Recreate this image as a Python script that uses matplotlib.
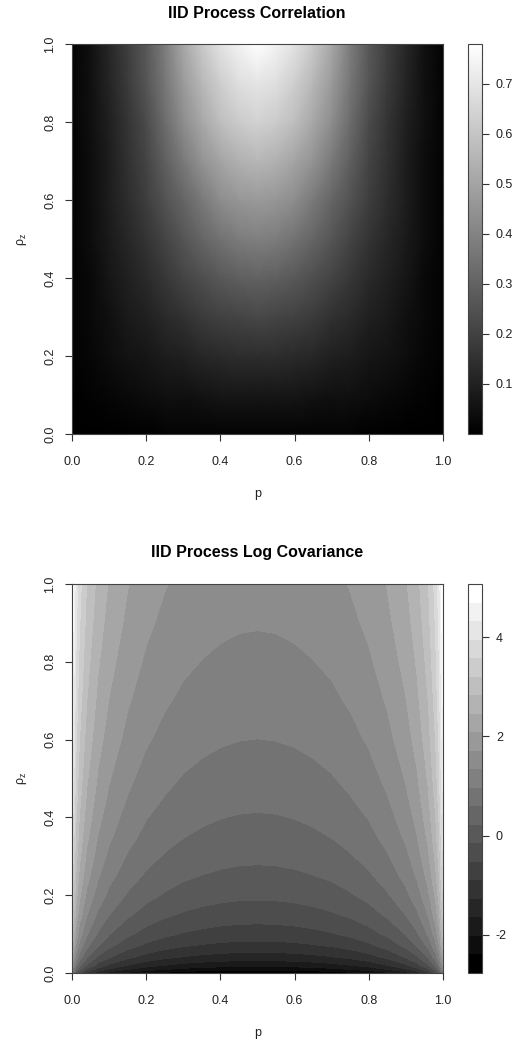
#!/usr/bin/env python3
# -*- coding: utf-8 -*-
"""
Processus IID : correlation et log-covariance en fonction de p et rho_z
Valeurs relevees sur la figure d'origine (grille grossiere).
"""

import numpy as np
import matplotlib
matplotlib.use("Agg")
import matplotlib.pyplot as plt
from matplotlib.colors import ListedColormap

plt.rcParams['font.family'] = ['Liberation Sans', 'DejaVu Sans']
plt.rcParams['axes.unicode_minus'] = False
plt.rcParams['mathtext.fontset'] = 'custom'
plt.rcParams['mathtext.rm'] = 'Liberation Sans'

# ---------------------------------------------------------------
# Donnees - correlation
# ---------------------------------------------------------------
p_corr = [0.00, 0.05, 0.10, 0.15, 0.20, 0.25, 0.30, 0.35, 0.40, 0.45, 0.50,
          0.55, 0.60, 0.65, 0.70, 0.75, 0.80, 0.85, 0.90, 0.95, 1.00]
rho_corr = [0.0, 0.1, 0.2, 0.3, 0.4, 0.5, 0.6, 0.7, 0.8, 0.9, 1.0]
corr_grid = [
    [0.00, 0.00, 0.00, 0.00, 0.00, 0.01, 0.01, 0.01, 0.01, 0.01, 0.01, 0.01, 0.01, 0.01, 0.01, 0.01, 0.00, 0.00, 0.00, 0.00, 0.00],
    [0.00, 0.01, 0.02, 0.03, 0.04, 0.05, 0.05, 0.06, 0.07, 0.07, 0.07, 0.07, 0.07, 0.06, 0.05, 0.05, 0.04, 0.03, 0.02, 0.01, 0.00],
    [0.01, 0.02, 0.04, 0.06, 0.07, 0.09, 0.10, 0.12, 0.13, 0.14, 0.14, 0.14, 0.13, 0.12, 0.10, 0.09, 0.07, 0.06, 0.04, 0.02, 0.01],
    [0.01, 0.03, 0.05, 0.08, 0.10, 0.13, 0.15, 0.18, 0.20, 0.21, 0.22, 0.21, 0.20, 0.18, 0.15, 0.13, 0.10, 0.08, 0.05, 0.03, 0.01],
    [0.01, 0.03, 0.07, 0.10, 0.13, 0.17, 0.21, 0.24, 0.27, 0.29, 0.30, 0.29, 0.27, 0.24, 0.21, 0.17, 0.13, 0.10, 0.07, 0.03, 0.01],
    [0.01, 0.04, 0.08, 0.12, 0.16, 0.21, 0.26, 0.31, 0.35, 0.38, 0.39, 0.38, 0.35, 0.31, 0.26, 0.21, 0.16, 0.12, 0.08, 0.04, 0.01],
    [0.01, 0.04, 0.09, 0.14, 0.19, 0.25, 0.31, 0.37, 0.43, 0.46, 0.47, 0.46, 0.43, 0.37, 0.31, 0.25, 0.19, 0.14, 0.09, 0.04, 0.01],
    [0.01, 0.04, 0.09, 0.15, 0.21, 0.29, 0.37, 0.45, 0.50, 0.54, 0.56, 0.54, 0.50, 0.45, 0.37, 0.29, 0.21, 0.15, 0.09, 0.04, 0.01],
    [0.01, 0.05, 0.10, 0.16, 0.23, 0.33, 0.43, 0.51, 0.58, 0.62, 0.64, 0.62, 0.58, 0.51, 0.43, 0.33, 0.23, 0.16, 0.10, 0.05, 0.01],
    [0.01, 0.05, 0.11, 0.18, 0.26, 0.36, 0.47, 0.56, 0.63, 0.68, 0.70, 0.68, 0.63, 0.56, 0.47, 0.36, 0.26, 0.18, 0.11, 0.05, 0.01],
    [0.01, 0.05, 0.12, 0.19, 0.27, 0.38, 0.51, 0.61, 0.69, 0.74, 0.78, 0.74, 0.69, 0.61, 0.51, 0.38, 0.27, 0.19, 0.12, 0.05, 0.01],
]
corr_ticks = [0.1, 0.2, 0.3, 0.4, 0.5, 0.6, 0.7]

# ---------------------------------------------------------------
# Donnees - log covariance
# ---------------------------------------------------------------
p_cov = [0.00, 0.01, 0.02, 0.04, 0.07, 0.10, 0.15, 0.20, 0.25, 0.30, 0.35, 0.40, 0.45, 0.50,
         0.55, 0.60, 0.65, 0.70, 0.75, 0.80, 0.85, 0.90, 0.93, 0.96, 0.98, 0.99, 1.00]
rho_cov = [0.00, 0.01, 0.02, 0.04, 0.07, 0.10, 0.15, 0.20, 0.25, 0.30, 0.35, 0.40,
           0.45, 0.50, 0.60, 0.70, 0.80, 0.90, 0.95, 1.00]
logcov_grid = [
    [0.84, -0.06, -0.52, -1.05, -1.51, -1.81, -2.13, -2.35, -2.50, -2.61, -2.68, -2.73, -2.76, -2.77, -2.76, -2.73, -2.68, -2.61, -2.50, -2.35, -2.13, -1.81, -1.51, -1.05, -0.52, -0.06, 0.84],
    [1.35, 0.45, -0.01, -0.54, -1.00, -1.30, -1.62, -1.84, -1.99, -2.10, -2.17, -2.22, -2.25, -2.26, -2.25, -2.22, -2.17, -2.10, -1.99, -1.84, -1.62, -1.30, -1.00, -0.54, -0.01, 0.45, 1.35],
    [1.69, 0.79, 0.33, -0.20, -0.66, -0.96, -1.28, -1.50, -1.65, -1.76, -1.83, -1.88, -1.91, -1.92, -1.91, -1.88, -1.83, -1.76, -1.65, -1.50, -1.28, -0.96, -0.66, -0.20, 0.33, 0.79, 1.69],
    [2.14, 1.24, 0.78, 0.25, -0.21, -0.51, -0.83, -1.05, -1.20, -1.31, -1.38, -1.43, -1.46, -1.47, -1.46, -1.43, -1.38, -1.31, -1.20, -1.05, -0.83, -0.51, -0.21, 0.25, 0.78, 1.24, 2.14],
    [2.58, 1.68, 1.22, 0.69, 0.23, -0.07, -0.39, -0.61, -0.76, -0.87, -0.94, -0.99, -1.02, -1.03, -1.02, -0.99, -0.94, -0.87, -0.76, -0.61, -0.39, -0.07, 0.23, 0.69, 1.22, 1.68, 2.58],
    [2.89, 1.99, 1.53, 1.00, 0.54, 0.24, -0.08, -0.30, -0.45, -0.56, -0.63, -0.68, -0.71, -0.72, -0.71, -0.68, -0.63, -0.56, -0.45, -0.30, -0.08, 0.24, 0.54, 1.00, 1.53, 1.99, 2.89],
    [3.25, 2.35, 1.89, 1.36, 0.90, 0.60, 0.28, 0.06, -0.09, -0.20, -0.27, -0.32, -0.35, -0.36, -0.35, -0.32, -0.27, -0.20, -0.09, 0.06, 0.28, 0.60, 0.90, 1.36, 1.89, 2.35, 3.25],
    [3.52, 2.62, 2.16, 1.63, 1.17, 0.87, 0.55, 0.33, 0.18, 0.07, 0.00, -0.05, -0.08, -0.09, -0.08, -0.05, 0.00, 0.07, 0.18, 0.33, 0.55, 0.87, 1.17, 1.63, 2.16, 2.62, 3.52],
    [3.73, 2.83, 2.37, 1.84, 1.38, 1.08, 0.76, 0.54, 0.39, 0.28, 0.21, 0.16, 0.13, 0.12, 0.13, 0.16, 0.21, 0.28, 0.39, 0.54, 0.76, 1.08, 1.38, 1.84, 2.37, 2.83, 3.73],
    [3.90, 3.00, 2.54, 2.01, 1.55, 1.25, 0.93, 0.71, 0.56, 0.45, 0.38, 0.33, 0.30, 0.29, 0.30, 0.33, 0.38, 0.45, 0.56, 0.71, 0.93, 1.25, 1.55, 2.01, 2.54, 3.00, 3.90],
    [4.05, 3.15, 2.69, 2.16, 1.70, 1.40, 1.08, 0.86, 0.71, 0.60, 0.53, 0.48, 0.45, 0.44, 0.45, 0.48, 0.53, 0.60, 0.71, 0.86, 1.08, 1.40, 1.70, 2.16, 2.69, 3.15, 4.05],
    [4.17, 3.27, 2.81, 2.28, 1.82, 1.52, 1.20, 0.98, 0.83, 0.72, 0.65, 0.60, 0.57, 0.56, 0.57, 0.60, 0.65, 0.72, 0.83, 0.98, 1.20, 1.52, 1.82, 2.28, 2.81, 3.27, 4.17],
    [4.29, 3.39, 2.93, 2.40, 1.94, 1.64, 1.32, 1.10, 0.95, 0.84, 0.77, 0.72, 0.69, 0.68, 0.69, 0.72, 0.77, 0.84, 0.95, 1.10, 1.32, 1.64, 1.94, 2.40, 2.93, 3.39, 4.29],
    [4.39, 3.49, 3.03, 2.50, 2.04, 1.74, 1.42, 1.20, 1.05, 0.94, 0.87, 0.82, 0.79, 0.78, 0.79, 0.82, 0.87, 0.94, 1.05, 1.20, 1.42, 1.74, 2.04, 2.50, 3.03, 3.49, 4.39],
    [4.57, 3.67, 3.21, 2.68, 2.22, 1.92, 1.60, 1.38, 1.23, 1.12, 1.05, 1.00, 0.97, 0.96, 0.97, 1.00, 1.05, 1.12, 1.23, 1.38, 1.60, 1.92, 2.22, 2.68, 3.21, 3.67, 4.57],
    [4.72, 3.82, 3.36, 2.83, 2.37, 2.07, 1.75, 1.53, 1.38, 1.27, 1.20, 1.15, 1.12, 1.11, 1.12, 1.15, 1.20, 1.27, 1.38, 1.53, 1.75, 2.07, 2.37, 2.83, 3.36, 3.82, 4.72],
    [4.85, 3.95, 3.49, 2.96, 2.50, 2.20, 1.88, 1.66, 1.51, 1.40, 1.33, 1.28, 1.25, 1.24, 1.25, 1.28, 1.33, 1.40, 1.51, 1.66, 1.88, 2.20, 2.50, 2.96, 3.49, 3.95, 4.85],
    [4.97, 4.07, 3.61, 3.08, 2.62, 2.32, 2.00, 1.78, 1.63, 1.52, 1.45, 1.40, 1.37, 1.36, 1.37, 1.40, 1.45, 1.52, 1.63, 1.78, 2.00, 2.32, 2.62, 3.08, 3.61, 4.07, 4.97],
    [5.02, 4.12, 3.66, 3.13, 2.67, 2.37, 2.05, 1.83, 1.68, 1.57, 1.50, 1.45, 1.42, 1.41, 1.42, 1.45, 1.50, 1.57, 1.68, 1.83, 2.05, 2.37, 2.67, 3.13, 3.66, 4.12, 5.02],
    [5.07, 4.17, 3.71, 3.18, 2.72, 2.42, 2.10, 1.88, 1.73, 1.62, 1.55, 1.50, 1.47, 1.46, 1.47, 1.50, 1.55, 1.62, 1.73, 1.88, 2.10, 2.42, 2.72, 3.18, 3.71, 4.17, 5.07],
]
logcov_ticks = [-2, 0, 2, 4]
n_bands = 21

axis_ticks = [0.0, 0.2, 0.4, 0.6, 0.8, 1.0]
axis_labels = ['0.0', '0.2', '0.4', '0.6', '0.8', '1.0']

W, H = 517, 1044


def px_box(x0, y0, x1, y1):
    """Rectangle en pixels (origine en haut a gauche) -> coordonnees figure"""
    return [x0 / W, 1 - y1 / H, (x1 - x0) / W, (y1 - y0) / H]


def style_axes(ax):
    ax.set_xlim(0, 1)
    ax.set_ylim(0, 1)
    ax.set_xticks(axis_ticks)
    ax.set_xticklabels(axis_labels)
    ax.set_yticks(axis_ticks)
    ax.set_yticklabels(axis_labels, rotation=90, va='center')
    ax.tick_params(axis='both', direction='out', length=5, width=0.8,
                   labelsize=9, colors='#333333', labelcolor='#222222')
    ax.tick_params(axis='x', pad=11)
    ax.tick_params(axis='y', pad=6.5)
    for s in ax.spines.values():
        s.set_linewidth(0.8)
        s.set_color('#444444')
    ax.set_xlabel('p', fontsize=9, labelpad=14, color='#222222')
    # rho droit (police du texte) avec indice z
    ax.set_ylabel('ρ$_{\\mathrm{z}}$', fontsize=9, labelpad=10.5, color='#222222')


def style_cbar(cb, ticks):
    cb.set_ticks(ticks)
    cb.ax.tick_params(direction='out', length=5, width=0.8, labelsize=9,
                      pad=5, colors='#333333', labelcolor='#222222')
    cb.outline.set_linewidth(0.8)
    cb.outline.set_edgecolor('#444444')


def main():
    fig = plt.figure(figsize=(W / 100, H / 100), dpi=100)

    # Panneau 1 : correlation
    ax1 = fig.add_axes(px_box(72, 44, 443, 434))
    cax1 = fig.add_axes(px_box(468, 44, 482, 434))
    z1 = np.array(corr_grid)
    m1 = ax1.pcolormesh(p_corr, rho_corr, z1, cmap='gray', shading='gouraud',
                        vmin=z1.min(), vmax=z1.max())
    style_axes(ax1)
    cb1 = fig.colorbar(m1, cax=cax1)
    style_cbar(cb1, corr_ticks)
    fig.text(257 / W, 1 - 13 / H, 'IID Process Correlation', ha='center',
             va='center', fontsize=11.5, fontweight='bold')

    # Panneau 2 : log covariance (niveaux de gris discrets)
    ax2 = fig.add_axes(px_box(72, 584, 443, 973))
    cax2 = fig.add_axes(px_box(468, 584, 482, 973))
    z2 = np.array(logcov_grid)
    levels = np.linspace(z2.min(), z2.max(), n_bands + 1)
    greys = ListedColormap([str(g) for g in np.linspace(0, 1, n_bands)])
    m2 = ax2.contourf(p_cov, rho_cov, z2, levels=levels, cmap=greys)
    style_axes(ax2)
    cb2 = fig.colorbar(m2, cax=cax2)
    style_cbar(cb2, logcov_ticks)
    fig.text(257 / W, 1 - 553 / H, 'IID Process Log Covariance', ha='center',
             va='center', fontsize=11.5, fontweight='bold')

    fig.savefig('out.png', dpi=100)
    plt.close(fig)


if __name__ == "__main__":
    main()
